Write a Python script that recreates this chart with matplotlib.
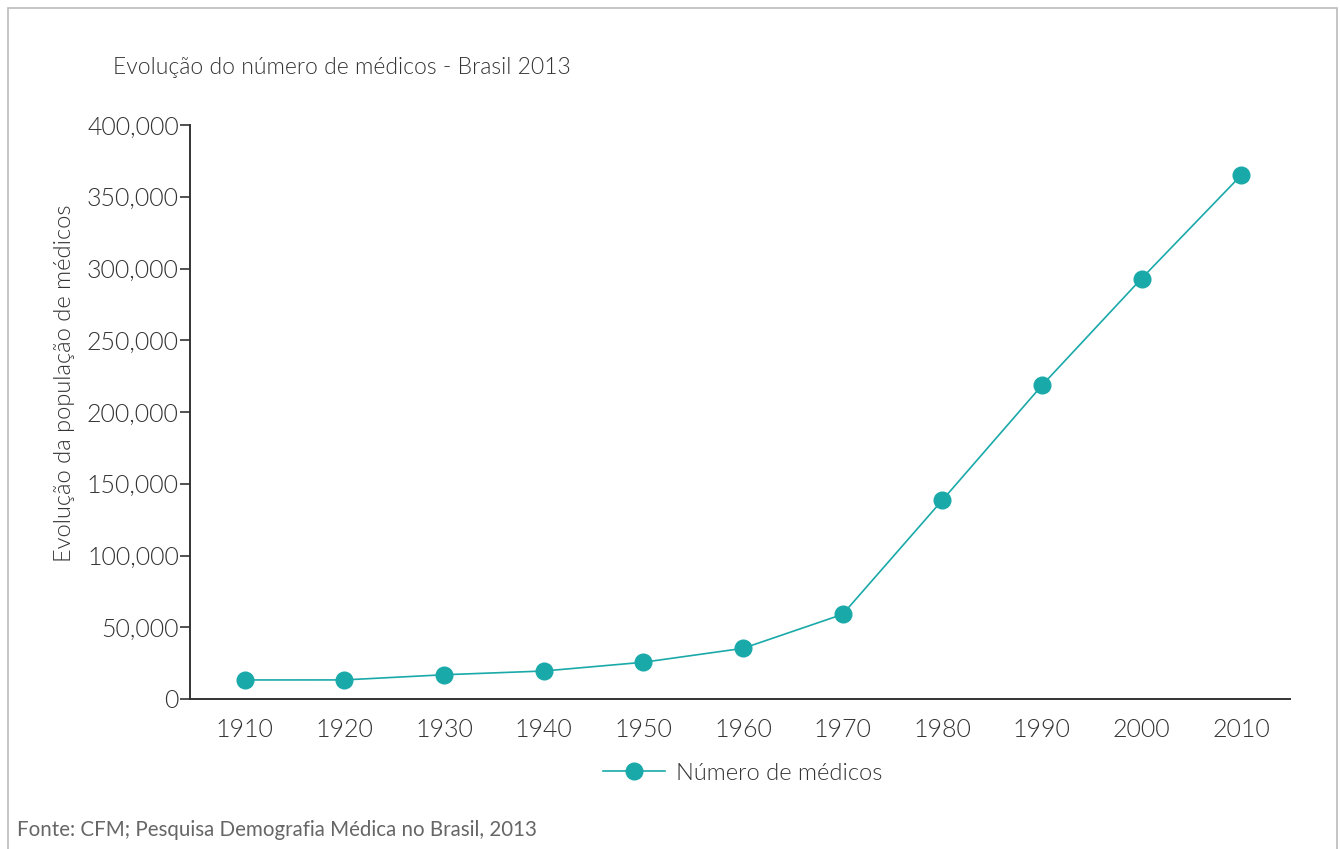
import matplotlib.pyplot as plt
from matplotlib.patches import Rectangle
from matplotlib.ticker import FuncFormatter

# data
anos = [1910, 1920, 1930, 1940, 1950, 1960, 1970, 1980, 1990, 2000, 2010]
medicos = [13270, 13300, 16900, 19500, 25600, 35300, 59000, 138500, 218500, 293000, 365000]
y_ticks = [0, 50000, 100000, 150000, 200000, 250000, 300000, 350000, 400000]

cor = "#1aa9a9"
texto = "#333333"
peso = 300  # Lato Light
plt.rcParams['font.family'] = ['Lato', 'DejaVu Sans']

fig = plt.figure(figsize=(13.4, 8.49), dpi=100)
ax = fig.add_axes([190 / 1340, 1 - 699 / 849, 1100 / 1340, 574 / 849])

ax.plot(anos, medicos, color=cor, linewidth=1.2, marker="o", markersize=12,
        label="Número de médicos")

ax.set_xlim(1904.5, 2014.9)
ax.set_ylim(0, 400000)
ax.set_xticks(anos)
ax.set_yticks(y_ticks)
ax.yaxis.set_major_formatter(FuncFormatter(lambda v, p: f"{int(v):,}"))

for s in ["top", "right"]:
    ax.spines[s].set_visible(False)
for s in ["left", "bottom"]:
    ax.spines[s].set_color(texto)
    ax.spines[s].set_linewidth(1.4)

ax.tick_params(axis="y", length=7, width=1.2, color=texto, labelsize=18,
               labelcolor=texto, pad=1)
ax.tick_params(axis="x", length=0, labelsize=18, labelcolor=texto, pad=14)
for lbl in ax.get_xticklabels() + ax.get_yticklabels():
    lbl.set_fontweight(peso)

ax.set_ylabel("Evolução da população de médicos", fontsize=17, color=texto,
              fontweight=peso)
ax.yaxis.set_label_coords(-115 / 1100, (699 - 383) / 574)

fig.text(113 / 1340, 1 - 68 / 849, "Evolução do número de médicos - Brasil 2013",
         fontsize=16.5, color=texto, fontweight=peso, va="center")

leg = ax.legend(loc="center", bbox_to_anchor=(743 / 1340, 1 - 773 / 849),
                bbox_transform=fig.transFigure, frameon=False, fontsize=17,
                handlelength=2.6, handletextpad=0.5)
for t in leg.get_texts():
    t.set_color(texto)
    t.set_fontweight(peso)

fig.text(17 / 1340, 1 - 830 / 849, "Fonte: CFM; Pesquisa Demografia Médica no Brasil, 2013",
         fontsize=14.8, color="#666666", va="center")

# moldura cinza
fig.patches.append(Rectangle((8 / 1340, -0.01), 1329 / 1340, 1 - 8 / 849 + 0.01,
                             transform=fig.transFigure, fill=False,
                             edgecolor="#bbbbbb", linewidth=1.2))

fig.savefig("out.png", dpi=100)
